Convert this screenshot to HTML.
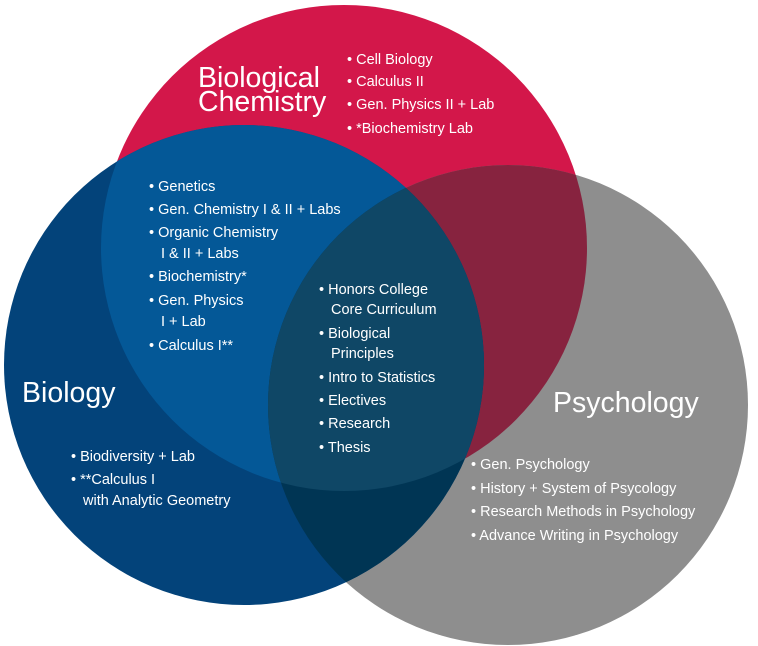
<!DOCTYPE html>
<html><head><meta charset="utf-8"><style>
html,body{margin:0;padding:0;background:#fff;width:758px;height:646px;overflow:hidden}
svg{display:block}
text{font-family:"Liberation Sans",sans-serif;fill:#fff;font-size:14.5px}
.t{font-family:"Liberation Sans",sans-serif;font-size:28.5px}
</style></head><body>
<svg width="758" height="646" viewBox="0 0 758 646">
<defs>
<clipPath id="cR"><circle cx="344" cy="248" r="243"/></clipPath>
<clipPath id="cB"><circle cx="244" cy="365" r="240"/></clipPath>
<clipPath id="cG"><circle cx="508" cy="405" r="240"/></clipPath>
</defs>
<circle cx="344" cy="248" r="243" fill="#d3174a"/>
<circle cx="508" cy="405" r="240" fill="#8e8e8e"/>
<circle cx="244" cy="365" r="240" fill="#03437a"/>
<g clip-path="url(#cR)"><circle cx="508" cy="405" r="240" fill="#87233f"/><circle cx="244" cy="365" r="240" fill="#045897"/></g>
<g clip-path="url(#cB)"><circle cx="508" cy="405" r="240" fill="#003554"/></g>
<g clip-path="url(#cR)"><g clip-path="url(#cB)"><circle cx="508" cy="405" r="240" fill="#0f4766"/></g></g>

<text class="t" x="198" y="87">Biological</text>
<text class="t" x="198" y="111">Chemistry</text>
<text class="t" x="22" y="402">Biology</text>
<text class="t" x="553" y="412">Psychology</text>

<g>
<text x="347" y="64">• Cell Biology</text>
<text x="347" y="86">• Calculus II</text>
<text x="347" y="109">• Gen. Physics II + Lab</text>
<text x="347" y="133">• *Biochemistry Lab</text>

<text x="149" y="191">• Genetics</text>
<text x="149" y="214">• Gen. Chemistry I &amp; II + Labs</text>
<text x="149" y="237">• Organic Chemistry</text>
<text x="161" y="258">I &amp; II + Labs</text>
<text x="149" y="281">• Biochemistry*</text>
<text x="149" y="305">• Gen. Physics</text>
<text x="161" y="326">I + Lab</text>
<text x="149" y="350">• Calculus I**</text>

<text x="319" y="294">• Honors College</text>
<text x="331" y="314">Core Curriculum</text>
<text x="319" y="338">• Biological</text>
<text x="331" y="358">Principles</text>
<text x="319" y="382">• Intro to Statistics</text>
<text x="319" y="405">• Electives</text>
<text x="319" y="428">• Research</text>
<text x="319" y="452">• Thesis</text>

<text x="71" y="461">• Biodiversity + Lab</text>
<text x="71" y="484">• **Calculus I</text>
<text x="83" y="505">with Analytic Geometry</text>

<text x="471" y="469">• Gen. Psychology</text>
<text x="471" y="493">• History + System of Psycology</text>
<text x="471" y="516">• Research Methods in Psychology</text>
<text x="471" y="540">• Advance Writing in Psychology</text>
</g>
</svg>
</body></html>
